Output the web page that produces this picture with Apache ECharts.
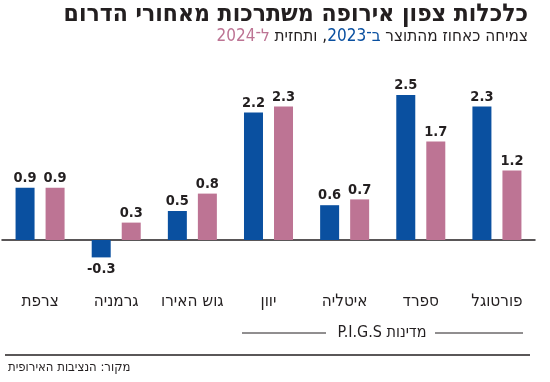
<!DOCTYPE html>
<html><head><meta charset="utf-8">
<script src="https://cdn.jsdelivr.net/npm/echarts@6/dist/echarts.min.js"></script>
<style>html,body{margin:0;padding:0;background:#fff}#c{width:550px;height:382px}</style>
</head><body><div id="c"></div>
<script>
const categories = ['צרפת','גרמניה','גוש האירו','יוון','איטליה','ספרד','פורטוגל'];
const growth2023 = [0.9, -0.3, 0.5, 2.2, 0.6, 2.5, 2.3];
const forecast2024 = [0.9, 0.3, 0.8, 2.3, 0.7, 1.7, 1.2];
const titleText = 'כלכלות צפון אירופה משתרכות מאחורי הדרום';
// subtitle pieces, listed in visual order from left to right
const subtitleVisual = [['p','ל־2024'], ['t',' ותחזית ,'], ['b','ב־2023'], ['t',' צמיחה כאחוז מהתוצר']];
const pigsText = '\u202Bמדינות P.I.G.S\u202C';
const sourceText = 'מקור: הנציבות האירופית';

const BLUE = '#0a50a0', PINK = '#bd7494', INK = '#231f20';
const HEB = '"DejaVu Sans Condensed","Liberation Sans Narrow",sans-serif';

function items(arr){
  return arr.map(v => ({value: v, label: v < 0 ? {position:'bottom', distance:4} : {position:'top', distance:2}}));
}
const lbl = {show:true, color:INK, fontFamily:HEB, fontWeight:'bold', fontSize:14.5, formatter:p => p.value.toFixed(1)};

const chart = echarts.init(document.getElementById('c'), null, {renderer:'canvas'});
chart.setOption({
  animation:false,
  grid:{left:2, right:15, top:66, bottom:113},
  xAxis:{type:'category', data:categories,
    axisLine:{onZero:true, lineStyle:{color:INK, width:1.5}},
    axisTick:{show:false},
    axisLabel:{interval:0, margin:24, color:INK, fontSize:17, fontFamily:HEB}},
  yAxis:{type:'value', min:-0.5, max:3, show:false, splitLine:{show:false}},
  series:[
    {name:'2023', type:'bar', data:items(growth2023), barWidth:19, barGap:'58%', itemStyle:{color:BLUE}, label:lbl},
    {name:'2024', type:'bar', data:items(forecast2024), barWidth:19, barGap:'58%', itemStyle:{color:PINK}, label:lbl}
  ],
  graphic:[
    {type:'text', right:22, top:2, style:{text:titleText, font:'bold 24.5px '+HEB, fill:INK}},
    {type:'text', right:22, top:28, style:{
      text:subtitleVisual.map(s => '{'+s[0]+'|'+s[1]+'}').join(''),
      rich:{
        t:{fill:INK, fontSize:17, fontFamily:HEB},
        b:{fill:BLUE, fontSize:17, fontFamily:HEB},
        p:{fill:PINK, fontSize:17, fontFamily:HEB}
      }}},
    {type:'line', shape:{x1:242, y1:333, x2:326, y2:333}, style:{stroke:INK, lineWidth:1}},
    {type:'line', shape:{x1:435, y1:333, x2:523, y2:333}, style:{stroke:INK, lineWidth:1}},
    {type:'text', x:382, y:333, style:{text:pigsText, font:'16px '+HEB, fill:INK, align:'center', verticalAlign:'middle'}},
    {type:'line', shape:{x1:5, y1:355, x2:530, y2:355}, style:{stroke:INK, lineWidth:1.5}},
    {type:'text', x:8, y:368, style:{text:sourceText, font:'13px '+HEB, fill:INK, align:'left', verticalAlign:'middle'}}
  ]
});
</script></body></html>
